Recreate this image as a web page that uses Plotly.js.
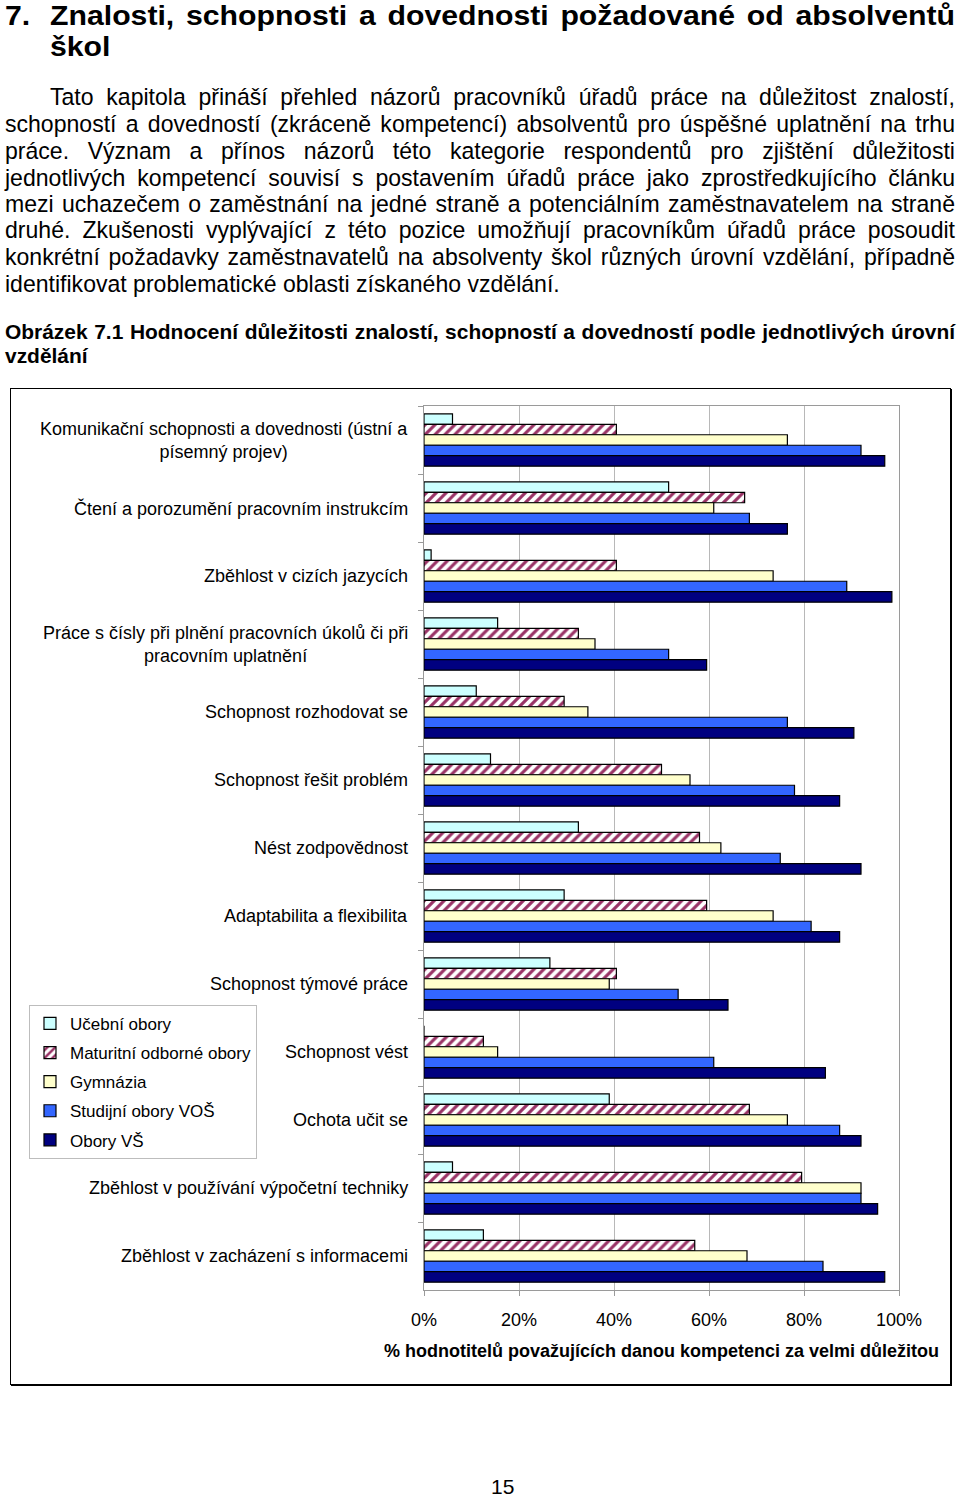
<!DOCTYPE html>
<html><head><meta charset="utf-8">
<script src="https://cdn.plot.ly/plotly-3.0.1.min.js"></script>
<style>
html,body{margin:0;padding:0;background:#fff;}
body{width:960px;height:1496px;position:relative;overflow:hidden;font-family:"Liberation Sans",Arial,sans-serif;color:#000;}
.ln{position:absolute;white-space:nowrap;transform-origin:0 50%;}
#frame{position:absolute;left:10px;top:388px;width:939px;height:995px;border:1px solid #000;box-shadow:1px 1px 0 #000;background:#fff;}
#chart{width:939px;height:995px;}
</style></head><body>
<div id="text"></div>
<div id="frame"><div id="chart"></div></div>
<script>
// ---------------- DATA ----------------
const categories = [
  'Komunikační schopnosti a dovednosti (ústní a písemný projev)',
  'Čtení a porozumění pracovním instrukcím',
  'Zběhlost v cizích jazycích',
  'Práce s čísly při plnění pracovních úkolů či při pracovním uplatnění',
  'Schopnost rozhodovat se',
  'Schopnost řešit problém',
  'Nést zodpovědnost',
  'Adaptabilita a flexibilita',
  'Schopnost týmové práce',
  'Schopnost vést',
  'Ochota učit se',
  'Zběhlost v používání výpočetní techniky',
  'Zběhlost v zacházení s informacemi'
];
const categoryLabels = [
  'Komunikační schopnosti a dovednosti (ústní a<br>písemný projev)',
  'Čtení a porozumění pracovním instrukcím',
  'Zběhlost v cizích jazycích',
  'Práce s čísly při plnění pracovních úkolů či při<br>pracovním uplatnění',
  'Schopnost rozhodovat se',
  'Schopnost řešit problém',
  'Nést zodpovědnost',
  'Adaptabilita a flexibilita',
  'Schopnost týmové práce',
  'Schopnost vést',
  'Ochota učit se',
  'Zběhlost v používání výpočetní techniky',
  'Zběhlost v zacházení s informacemi'
];
const seriesNames = ['Učební obory', 'Maturitní odborné obory', 'Gymnázia', 'Studijní obory VOŠ', 'Obory VŠ'];
const ucebniObory     = [6, 51.5, 1.5, 15.5, 11, 14, 32.5, 29.5, 26.5, 0, 39, 6, 12.5];
const maturitniObory  = [40.5, 67.5, 40.5, 32.5, 29.5, 50, 58, 59.5, 40.5, 12.5, 68.5, 79.5, 57];
const gymnazia        = [76.5, 61, 73.5, 36, 34.5, 56, 62.5, 73.5, 39, 15.5, 76.5, 92, 68];
const studijniVOS     = [92, 68.5, 89, 51.5, 76.5, 78, 75, 81.5, 53.5, 61, 87.5, 92, 84];
const oboryVS         = [97, 76.5, 98.5, 59.5, 90.5, 87.5, 92, 87.5, 64, 84.5, 92, 95.5, 97];
const xTickValues = [0, 20, 40, 60, 80, 100];
const xTickLabels = ['0%', '20%', '40%', '60%', '80%', '100%'];
const xAxisTitle = '% hodnotitelů považujících danou kompetenci za velmi důležitou';

// ---------------- PAGE TEXT ----------------
const textLines = [
  {t:'7.', x:5, y:15.5, cls:'h'},
  {t:'Znalosti, schopnosti a dovednosti požadované od absolventů', x:50, y:15.5, w:905, cls:'h'},
  {t:'škol', x:50, y:47, cls:'h'},
  {t:'Tato kapitola přináší přehled názorů pracovníků úřadů práce na důležitost znalostí,', x:50, y:97, w:905, cls:'b'},
  {t:'schopností a dovedností (zkráceně kompetencí) absolventů pro úspěšné uplatnění na trhu', x:5, y:124, w:950, cls:'b'},
  {t:'práce. Význam a přínos názorů této kategorie respondentů pro zjištění důležitosti', x:5, y:151, w:950, cls:'b'},
  {t:'jednotlivých kompetencí souvisí s postavením úřadů práce jako zprostředkujícího článku', x:5, y:178, w:950, cls:'b'},
  {t:'mezi uchazečem o zaměstnání na jedné straně a potenciálním zaměstnavatelem na straně', x:5, y:204, w:950, cls:'b'},
  {t:'druhé. Zkušenosti vyplývající z této pozice umožňují pracovníkům úřadů práce posoudit', x:5, y:230, w:950, cls:'b'},
  {t:'konkrétní požadavky zaměstnavatelů na absolventy škol různých úrovní vzdělání, případně', x:5, y:257, w:950, cls:'b'},
  {t:'identifikovat problematické oblasti získaného vzdělání.', x:5, y:284, cls:'b'},
  {t:'Obrázek 7.1 Hodnocení důležitosti znalostí, schopností a dovedností podle jednotlivých úrovní', x:5, y:332, w:950, cls:'c'},
  {t:'vzdělání', x:5, y:356, cls:'c'},
  {t:'15', x:491, y:1487, cls:'p'}
];
// h: fixed size, horizontally stretched to a natural width; b/c: size calibrated to a measured line width
const fontSpec = {
  h:{weight:700, base:28, stretchCalib:1, stretchTarget:885, lh:28},
  b:{weight:400, base:20, calib:10, target:555, lh:24},
  c:{weight:700, base:19, calib:11, target:943, lh:22},
  p:{weight:400, base:21, lh:24}
};
const FAMILY = '"Liberation Sans", Arial, sans-serif';
function measure(text, weight, size){
  const s = document.createElement('span');
  s.style.cssText = 'position:absolute;visibility:hidden;white-space:nowrap;font-family:'+FAMILY+';font-weight:'+weight+';font-size:'+size+'px;';
  s.textContent = text;
  document.body.appendChild(s);
  const w = s.getBoundingClientRect().width;
  s.remove();
  return w;
}
const sizes = {}, stretch = {};
for (const k in fontSpec){
  const f = fontSpec[k];
  sizes[k] = f.base; stretch[k] = 1;
  if (f.calib !== undefined){
    const w = measure(textLines[f.calib].t, f.weight, f.base);
    sizes[k] = f.base * f.target / w;
  }
  if (f.stretchCalib !== undefined){
    const w = measure(textLines[f.stretchCalib].t, f.weight, f.base);
    stretch[k] = Math.max(1, f.stretchTarget / w);
  }
}
const host = document.getElementById('text');
textLines.forEach(L => {
  const f = fontSpec[L.cls], sz = sizes[L.cls], lh = f.lh, sx = stretch[L.cls];
  const d = document.createElement('div');
  d.className = 'ln';
  d.textContent = L.t;
  d.style.left = L.x + 'px';
  d.style.top = (L.y - lh/2) + 'px';
  d.style.fontSize = sz + 'px';
  d.style.lineHeight = lh + 'px';
  d.style.height = lh + 'px';
  d.style.fontWeight = f.weight;
  let scale = sx;
  if (L.w){
    const nat = measure(L.t, f.weight, sz);
    const n = (L.t.match(/ /g) || []).length;
    const pre = L.w / sx;
    if (nat < pre && n > 0) d.style.wordSpacing = ((pre - nat)/n) + 'px';
    else if (nat > pre) scale = L.w / nat;
  }
  if (scale !== 1) d.style.transform = 'scaleX(' + scale + ')';
  host.appendChild(d);
});

// ---------------- CHART ----------------
const seriesValues = [ucebniObory, maturitniObory, gymnazia, studijniVOS, oboryVS];
const fills = ['#CCFFFF', '#FFFFFF', '#FFFFCC', '#3366FF', '#000080'];
const traces = seriesValues.map((vals, i) => {
  const marker = {color: fills[i], line:{color:'#000', width:1.2}};
  if (i === 1) marker.pattern = {shape:'/', fgcolor:'#993366', bgcolor:'#FFFFFF', size:7, solidity:0.45, fillmode:'replace'};
  return {
    type:'bar', orientation:'h', name: seriesNames[i],
    y: categories, x: vals, legendgroup: 'g'+i,
    marker: marker, hoverinfo:'none'
  };
});
const annotations = categories.map((c, i) => ({
  xref:'paper', yref:'y', x:0, y:c, xanchor:'right', yanchor:'middle',
  xshift:-14, text: categoryLabels[i], showarrow:false, align:'center',
  font:{size:18, color:'#000'}
}));
const layout = {
  width:939, height:995,
  margin:{l:413, r:51, t:17, b:94},
  paper_bgcolor:'#fff', plot_bgcolor:'#fff',
  barmode:'group', bargap:0.23, bargroupgap:0,
  font:{family:FAMILY, color:'#000', size:16},
  showlegend:true,
  xaxis:{
    range:[0,100], tickmode:'array', tickvals:xTickValues, ticktext:xTickLabels,
    showgrid:true, gridcolor:'#b8b8b8', gridwidth:1,
    showline:true, linecolor:'#9a9a9a', linewidth:1, mirror:true,
    ticks:'outside', ticklen:5, tickcolor:'#9a9a9a',
    tickfont:{size:18}, ticklabelstandoff:8, zeroline:false,
    title:{text:xAxisTitle, font:{size:18, weight:700}, standoff:15},
    fixedrange:true
  },
  yaxis:{
    type:'category', autorange:'reversed', showticklabels:false,
    ticks:'outside', tickson:'boundaries', ticklen:5, tickcolor:'#9a9a9a',
    showline:true, linecolor:'#9a9a9a', linewidth:1, mirror:true, showgrid:false,
    fixedrange:true
  },
  legend:{
    x:-0.8316, y:0.3225, xanchor:'left', yanchor:'top',
    bordercolor:'#bdbdbd', borderwidth:1, bgcolor:'#fff',
    font:{size:17}, traceorder:'grouped', tracegroupgap:4, itemwidth:30
  },
  annotations: annotations
};
Plotly.newPlot('chart', traces, layout, {staticPlot:true, displayModeBar:false});
</script>
</body></html>
